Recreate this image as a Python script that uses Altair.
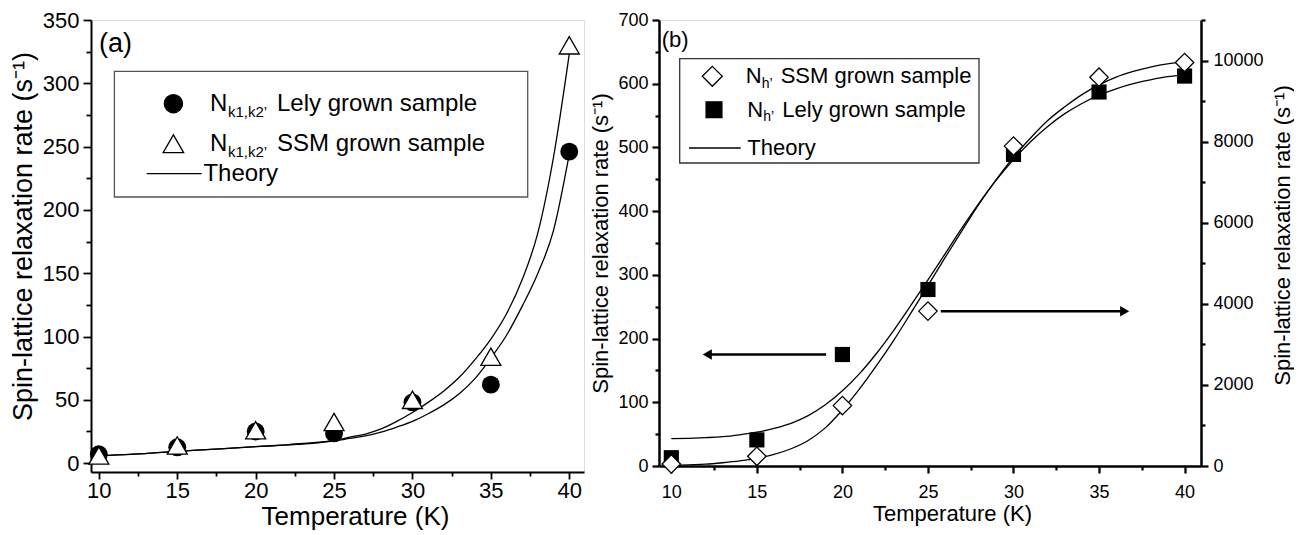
import altair as alt
import pandas as pd

FONT = "Liberation Sans, Arial, Helvetica, sans-serif"

# ---------------- data : panel (a) ----------------
temps_a = [10, 15, 20, 25, 30, 35, 40]
lely_a = [7, 12.5, 25, 23.5, 48, 62, 246]
ssm_a = [6, 14, 26, 32.5, 50, 84, 330]
theory_t_a = [10, 12, 14, 16, 18, 20, 22, 24, 25, 26, 27, 28, 29, 30, 31, 32,
              33, 34, 35, 36, 37, 38, 39, 40]
theory_ssm_a = [6, 7, 8.5, 10, 11.5, 13, 14.5, 16.5, 18, 20.5, 23, 27, 33, 40,
                48, 57, 68, 82, 98, 118, 145, 182, 242, 323]
theory_lely_a = [6, 7, 8.5, 10, 11.5, 13, 14.5, 16, 17.5, 19.5, 21.5, 24.5, 28.5,
                 33, 39, 46, 55, 67, 83, 101, 124, 150, 184, 244]

# ---------------- data : panel (b) ----------------
temps_b = [10, 15, 20, 25, 30, 35, 40]
lely_b = [13, 41, 175, 277, 489, 587, 612]          # left axis (s^-1)
ssm_b = [50, 240, 1490, 3820, 7890, 9590, 9950]      # right axis (s^-1)
theory_t_b = [10, 11, 12, 13, 14, 15, 16, 17, 18, 19, 20, 21, 22, 23, 24, 25,
              26, 27, 28, 29, 30, 31, 32, 33, 34, 35, 36, 37, 38, 39, 40]
theory_lely_b = [43, 43.5, 44.5, 46, 49, 53, 59, 67, 79, 96, 118, 145, 177, 213,
                 252, 292, 333, 374, 413, 449, 481, 509, 533, 553, 569, 582, 592,
                 600, 606, 611, 614]
theory_ssm_b = [15, 30, 45, 80, 125, 190, 285, 425, 630, 940, 1380, 1900, 2480,
                3100, 3770, 4450, 5140, 5810, 6470, 7070, 7620, 8090, 8520, 8860,
                9160, 9400, 9590, 9730, 9840, 9920, 9960]
arrow_from = [19.05, 25.75]
arrow_to = [12.1, 36.5]
arrow_level = [175, 243]
arrow_shape = ["triangle-left", "triangle-right"]

# ---------------- text ----------------
panel_tags = ["(a)", "(b)"]
legend_a = ["Lely grown sample", "SSM grown sample", "Theory"]
legend_a_sub = "k1,k2\u2019"
legend_b = ["SSM grown sample", "Lely grown sample", "Theory"]
legend_b_sub = "h\u2019"
x_title = "Temperature (K)"
y_title = "Spin-lattice relaxation rate (s\u207b\u00b9)"

x_major = [10, 15, 20, 25, 30, 35, 40]
x_minor = [12.5, 17.5, 22.5, 27.5, 32.5, 37.5]
ya_major = [0, 50, 100, 150, 200, 250, 300, 350]
ya_minor = [25, 75, 125, 175, 225, 275, 325]
yb_major = [0, 100, 200, 300, 400, 500, 600, 700]
yb_minor = [50, 150, 250, 350, 450, 550, 650]
yb2_major = [0, 2000, 4000, 6000, 8000, 10000]
yb2_minor = [1000, 3000, 5000, 7000, 9000, 11000]

# ---------------- layout constants ----------------
W_A, H_A = 493, 452
W_B, H_B = 542, 446

BASE = dict(grid=False, labelFont=FONT, titleFont=FONT, titleFontWeight="normal",
            domainColor="black", tickColor="black", labelColor="black",
            titleColor="black", labelFlush=False, labelOverlap=False)


def major_axis(values, orient, lsize, tsize, tick, lpad, tpad, dwidth, **kw):
    return alt.Axis(values=values, orient=orient, tickSize=tick, labelFontSize=lsize,
                    titleFontSize=tsize, labelPadding=lpad, titlePadding=tpad,
                    domainWidth=dwidth, tickWidth=dwidth * 0.9, **BASE, **kw)


def minor_axis(values, orient, tick, dwidth):
    return alt.Axis(values=values, orient=orient, tickSize=tick, labels=False,
                    domain=False, tickWidth=dwidth * 0.9, **BASE)


def ptext(text, x, y, size, align="left"):
    return alt.Chart(pd.DataFrame({"s": [text]})).mark_text(
        align=align, baseline="middle", font=FONT, fontSize=size, color="black"
    ).encode(x=alt.value(x), y=alt.value(y), text="s:N")


def psym(shape, x, y, size, fill, sw=1.3):
    return alt.Chart(pd.DataFrame({"s": [shape]})).mark_point(
        shape=shape, size=size, filled=True, fill=fill, stroke="black",
        strokeWidth=sw, opacity=1
    ).encode(x=alt.value(x), y=alt.value(y))


def pline(x1, x2, y, w=1.3):
    return alt.Chart(pd.DataFrame({"s": [0]})).mark_rule(
        color="black", strokeWidth=w
    ).encode(x=alt.value(x1), x2=alt.value(x2), y=alt.value(y))


def pbox(x1, x2, y1, y2, color):
    return alt.Chart(pd.DataFrame({"s": [0]})).mark_rect(
        fill="white", stroke=color, strokeWidth=1.3
    ).encode(x=alt.value(x1), x2=alt.value(x2), y=alt.value(y1), y2=alt.value(y2))


# ================= panel (a) =================
sx_a = alt.Scale(domain=[9.5, 40.94], nice=False, zero=False)
sy_a = alt.Scale(domain=[-7, 350], nice=False, zero=False)


def xa(axis=None):
    if axis is None:
        return alt.X("T:Q", scale=sx_a, axis=None)
    return alt.X("T:Q", scale=sx_a, axis=axis, title=x_title)


def ya(axis=None):
    if axis is None:
        return alt.Y("v:Q", scale=sy_a, axis=None)
    return alt.Y("v:Q", scale=sy_a, axis=axis, title=y_title)


ax_xa = major_axis(x_major, "bottom", 22, 26, 7, 1, 2, 2, titleX=264)
ax_ya = major_axis(ya_major, "left", 22, 27, 8, 4, 5, 2, titleY=216)

df_ta = pd.DataFrame({"T": theory_t_a, "ssm": theory_ssm_a, "lely": theory_lely_a})
df_pa = pd.DataFrame({"T": temps_a, "lely": lely_a, "ssm": ssm_a})

cur_a1 = alt.Chart(df_ta).transform_calculate(v="datum.ssm").mark_line(
    color="black", strokeWidth=1.3, interpolate="monotone").encode(x=xa(ax_xa), y=ya(ax_ya))
minor_a = alt.Chart(df_ta).transform_calculate(v="datum.ssm").mark_point(
    opacity=0).encode(
    x=alt.X("T:Q", scale=sx_a, axis=minor_axis(x_minor, "bottom", 4, 2), title=None),
    y=alt.Y("v:Q", scale=sy_a, axis=minor_axis(ya_minor, "left", 5, 2), title=None))
cur_a2 = alt.Chart(df_ta).transform_calculate(v="datum.lely").mark_line(
    color="black", strokeWidth=1.3, interpolate="monotone").encode(x=xa(), y=ya())
circ = alt.Chart(df_pa).transform_calculate(v="datum.lely").mark_point(
    shape="circle", filled=True, color="black", size=320, opacity=1).encode(x=xa(), y=ya())
tri = alt.Chart(df_pa).transform_calculate(v="datum.ssm").mark_point(
    shape="triangle-up", filled=True, fill="white", stroke="black", strokeWidth=1.3,
    size=400, opacity=1).encode(x=xa(), y=ya())

leg_a = [
    pbox(23.4, 436.7, 51.3, 177, "#555555"),
    psym("circle", 82.4, 83.7, 330, "black"),
    psym("triangle-up", 82.4, 123.7, 420, "white"),
    pline(55.7, 110.7, 153.7),
    ptext("N", 119, 83.7, 24), ptext(legend_a_sub, 137, 92, 15), ptext(legend_a[0], 186, 83.7, 24),
    ptext("N", 119, 123.7, 24), ptext(legend_a_sub, 137, 132, 15), ptext(legend_a[1], 186, 123.7, 24),
    ptext(legend_a[2], 112.4, 153.7, 24),
    ptext(panel_tags[0], 8, 23.5, 27),
]

panel_a = alt.layer(cur_a1, minor_a, cur_a2, circ, tri, *leg_a).resolve_scale(
    x="independent", y="independent").properties(width=W_A, height=H_A)

# ================= panel (b) =================
sx_b = alt.Scale(domain=[9.28, 40.96], nice=False, zero=False)
sy_b = alt.Scale(domain=[0, 700], nice=False, zero=False)
sy_b2 = alt.Scale(domain=[0, 11000], nice=False, zero=False)

ax_xb = major_axis(x_major, "bottom", 18, 22, 7, 10, 2, 2.5, titleX=293)
ax_yb = major_axis(yb_major, "left", 18, 22, 7, 4, 5, 2.5)
ax_yb2 = major_axis(yb2_major, "right", 18, 22, 7, 5, 9, 2.5, format="d",
                    titleAngle=270, titleBaseline="top", titleY=215)


def xb(axis=None):
    if axis is None:
        return alt.X("T:Q", scale=sx_b, axis=None)
    return alt.X("T:Q", scale=sx_b, axis=axis, title=x_title)


def yb(axis=None):
    if axis is None:
        return alt.Y("v:Q", scale=sy_b, axis=None)
    return alt.Y("v:Q", scale=sy_b, axis=axis, title=y_title)


def yb2(axis=None):
    if axis is None:
        return alt.Y("w:Q", scale=sy_b2, axis=None)
    return alt.Y("w:Q", scale=sy_b2, axis=axis, title=y_title)


df_tb = pd.DataFrame({"T": theory_t_b, "v": theory_lely_b, "w": theory_ssm_b})
df_pb = pd.DataFrame({"T": temps_b, "v": lely_b, "w": ssm_b})
df_ar = pd.DataFrame({"T": arrow_from, "T2": arrow_to, "v": arrow_level,
                      "shape": arrow_shape})

cur_b1 = alt.Chart(df_tb).mark_line(color="black", strokeWidth=1.3,
                                    interpolate="monotone").encode(x=xb(ax_xb), y=yb(ax_yb))
minor_b = alt.Chart(df_tb).mark_point(opacity=0).encode(
    x=alt.X("T:Q", scale=sx_b, axis=minor_axis(x_minor, "bottom", 4, 2.5), title=None),
    y=alt.Y("v:Q", scale=sy_b, axis=minor_axis(yb_minor, "left", 4, 2.5), title=None))
sq = alt.Chart(df_pb).mark_point(shape="square", filled=True, color="black",
                                 size=230, opacity=1).encode(x=xb(), y=yb())
ar_line = alt.Chart(df_ar).mark_rule(color="black", strokeWidth=2.5).encode(
    x=xb(), x2="T2:Q", y=yb())
ar_head = alt.Chart(df_ar).transform_calculate(
    T="datum.T2").mark_point(filled=True, color="black", size=110, opacity=1).encode(
    x=xb(), y=yb(), shape=alt.Shape("shape:N", scale=None))

cur_b2 = alt.Chart(df_tb).mark_line(color="black", strokeWidth=1.3,
                                    interpolate="monotone").encode(x=xb(), y=yb2(ax_yb2))
minor_b2 = alt.Chart(df_tb).mark_point(opacity=0).encode(
    x=xb(),
    y=alt.Y("w:Q", scale=sy_b2, axis=minor_axis(yb2_minor, "right", 4, 2.5), title=None))
dia = alt.Chart(df_pb).mark_point(shape="diamond", filled=True, fill="white",
                                  stroke="black", strokeWidth=1.3, size=340,
                                  opacity=1).encode(x=xb(), y=yb2())

leg_b = [
    pbox(20.7, 320, 38.7, 143, "#333333"),
    psym("diamond", 53.3, 56.3, 400, "white"),
    psym("square", 55, 89.7, 250, "black"),
    pline(30, 81.7, 128),
    ptext("N", 86.7, 56.3, 22), ptext(legend_b_sub, 102.7, 64, 14), ptext(legend_b[0], 121.7, 56.3, 22),
    ptext("N", 88.3, 89.7, 22), ptext(legend_b_sub, 104.3, 97.4, 14), ptext(legend_b[1], 123.3, 89.7, 22),
    ptext(legend_b[2], 88.3, 128, 22),
    ptext(panel_tags[1], 2.7, 19.7, 22),
]

panel_b = alt.layer(cur_b1, minor_b, sq, ar_line, ar_head, cur_b2, minor_b2, dia,
                    *leg_b).resolve_scale(x="independent", y="independent").properties(
    width=W_B, height=H_B)

chart = alt.hconcat(panel_a, panel_b, spacing=4).properties(
    padding={"left": 0, "top": 0, "right": 0, "bottom": 0}
).configure_view(stroke="black", strokeWidth=2).configure(font=FONT)

chart.save("out.html", embed_options={"renderer": "svg", "actions": False})
